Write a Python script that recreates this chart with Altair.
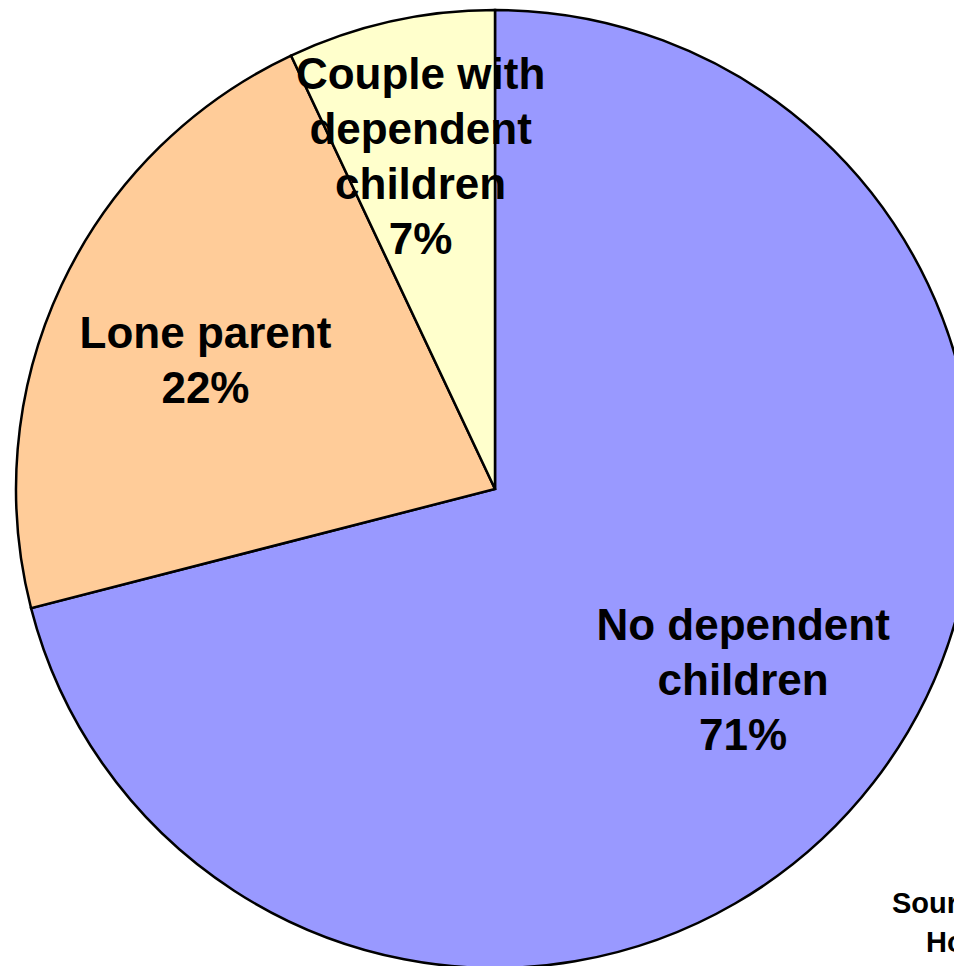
import altair as alt
import pandas as pd

categories = ["No dependent children", "Lone parent", "Couple with dependent children"]
values = [71, 22, 7]
labels = ["No dependent|children|71%", "Lone parent|22%", "Couple with|dependent|children|7%"]
colors = ["#9999FF", "#FFCC99", "#FFFFCC"]
order = [0, 1, 2]
source_lines = ["Source: Households Below Average Income", "Households Below Average Income"]

df = pd.DataFrame({"category": categories, "value": values, "label": labels, "order": order})

CX, CY, R = 487, 481, 479

base = alt.Chart(df).encode(
    theta=alt.Theta("value:Q", stack=True),
    order=alt.Order("order:Q"),
)

pie = base.mark_arc(stroke="black", strokeWidth=2.5).encode(
    color=alt.Color("category:N", scale=alt.Scale(domain=categories, range=colors), legend=None),
    x=alt.value(CX), y=alt.value(CY), radius=alt.value(R),
)

txt_style = dict(font="Liberation Sans", fontWeight="bold", fontSize=44, lineBreak="|",
                 lineHeight=55, align="center", baseline="middle", color="black")

def label_layer(idx, radius, dy):
    return base.mark_text(radius=radius, dy=dy, **txt_style).encode(
        text=alt.condition(alt.datum.order == idx, alt.Text("label:N"), alt.value("")),
        x=alt.value(CX), y=alt.value(CY),
    )

text_0 = label_layer(0, 314, -54)
text_1 = label_layer(1, 320, -18)
text_2 = label_layer(2, 341, -80)

src_style = dict(font="Liberation Sans", fontWeight="bold", fontSize=29, align="left", baseline="alphabetic")
src1 = alt.Chart(pd.DataFrame({"t": [source_lines[0]]})).mark_text(**src_style).encode(
    text="t:N", x=alt.value(884), y=alt.value(905))
src2 = alt.Chart(pd.DataFrame({"t": [source_lines[1]]})).mark_text(**src_style).encode(
    text="t:N", x=alt.value(918), y=alt.value(944))

chart = alt.layer(pie, text_0, text_1, text_2, src1, src2).properties(
    width=946, height=958, padding=0, autosize=alt.AutoSizeParams(type="none")
).configure_view(stroke=None)

chart.save("out.html", embed_options={"renderer": "svg", "actions": False})
